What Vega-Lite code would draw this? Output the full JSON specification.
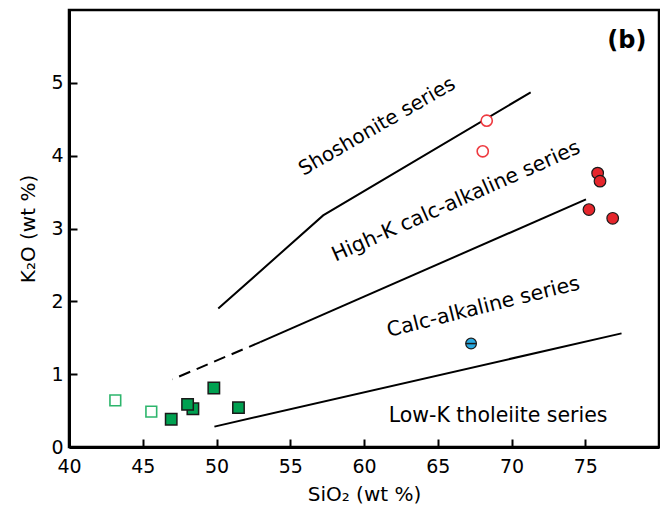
{
  "$schema": "https://vega.github.io/schema/vega-lite/v6.json",
  "width": 590,
  "height": 437,
  "autosize": {"type": "none"},
  "padding": {"left": 69, "top": 10, "right": 1, "bottom": 62},
  "background": "white",
  "config": {
    "view": {"stroke": "black", "strokeWidth": 2.5},
    "axis": {
      "grid": false,
      "domainColor": "black",
      "domainWidth": 3,
      "tickColor": "black",
      "tickWidth": 2,
      "tickSize": -8,
      "labelFont": "DejaVu Sans",
      "labelFontSize": 19,
      "labelColor": "black",
      "labelFlush": false,
      "labelOverlap": false,
      "titleFont": "DejaVu Sans",
      "titleFontSize": 20,
      "titleFontWeight": "normal",
      "titleColor": "black"
    }
  },
  "datasets": {
    "lines": [
      {"line": "shoshonite", "x": 50.12, "y": 1.9, "ord": 1},
      {"line": "shoshonite", "x": 57.23, "y": 3.18, "ord": 2},
      {"line": "shoshonite", "x": 71.3, "y": 4.87, "ord": 3},
      {"line": "highK", "x": 52.96, "y": 1.44, "ord": 1},
      {"line": "highK", "x": 75.05, "y": 3.4, "ord": 2},
      {"line": "calc", "x": 49.86, "y": 0.28, "ord": 1},
      {"line": "calc", "x": 77.46, "y": 1.56, "ord": 2}
    ],
    "dashed": [
      {"line": "highK-dashed", "x": 52.96, "y": 1.44, "ord": 1},
      {"line": "highK-dashed", "x": 47.02, "y": 0.93, "ord": 2}
    ],
    "samples": [
      {"group": "open-red", "x": 68.32, "y": 4.48},
      {"group": "open-red", "x": 68.05, "y": 4.06},
      {"group": "red", "x": 75.84, "y": 3.76},
      {"group": "red", "x": 76.0, "y": 3.65},
      {"group": "red", "x": 75.25, "y": 3.26},
      {"group": "red", "x": 76.86, "y": 3.14},
      {"group": "blue", "x": 67.26, "y": 1.42},
      {"group": "green", "x": 46.93, "y": 0.38},
      {"group": "green", "x": 48.4, "y": 0.525},
      {"group": "green", "x": 48.04, "y": 0.585},
      {"group": "green", "x": 49.82, "y": 0.81},
      {"group": "green", "x": 51.49, "y": 0.54},
      {"group": "open-green", "x": 43.14, "y": 0.64},
      {"group": "open-green", "x": 45.58, "y": 0.485}
    ],
    "labels": [
      {"name": "sho", "text": "Shoshonite series", "x": 60.89, "y": 4.4},
      {"name": "highK", "text": "High-K calc-alkaline series", "x": 66.24, "y": 3.37},
      {"name": "calc", "text": "Calc-alkaline series", "x": 68.09, "y": 1.92},
      {"name": "lowK", "text": "Low-K tholeiite series", "x": 69.09, "y": 0.42},
      {"name": "panel", "text": "(b)", "x": 77.82, "y": 5.57}
    ]
  },
  "encoding": {
    "x": {
      "field": "x",
      "type": "quantitative",
      "scale": {"domain": [40, 80], "nice": false, "zero": false},
      "axis": {
        "title": "SiO₂ (wt %)",
        "values": [40, 45, 50, 55, 60, 65, 70, 75],
        "labelPadding": 18,
        "titlePadding": 8
      }
    },
    "y": {
      "field": "y",
      "type": "quantitative",
      "scale": {"domain": [0, 6], "nice": false},
      "axis": {
        "title": "K₂O (wt %)",
        "values": [0, 1, 2, 3, 4, 5],
        "labelPadding": 14,
        "titlePadding": 12
      }
    }
  },
  "layer": [
    {
      "data": {"name": "lines"},
      "mark": {"type": "line", "color": "black", "strokeWidth": 2},
      "encoding": {"detail": {"field": "line"}, "order": {"field": "ord"}}
    },
    {
      "data": {"name": "dashed"},
      "mark": {"type": "line", "color": "black", "strokeWidth": 2, "strokeDash": [12, 7]},
      "encoding": {"detail": {"field": "line"}, "order": {"field": "ord"}}
    },
    {
      "data": {"name": "samples"},
      "transform": [{"filter": "datum.group === 'open-green'"}],
      "mark": {"type": "point", "shape": "square", "size": 115, "filled": false, "fill": "white", "stroke": "#2db56c", "strokeWidth": 1.6, "opacity": 1}
    },
    {
      "data": {"name": "samples"},
      "transform": [{"filter": "datum.group === 'green'"}],
      "mark": {"type": "point", "shape": "square", "size": 130, "filled": true, "fill": "#00a151", "stroke": "#1a1a1a", "strokeWidth": 1.5, "opacity": 1}
    },
    {
      "data": {"name": "samples"},
      "transform": [{"filter": "datum.group === 'open-red'"}],
      "mark": {"type": "point", "shape": "circle", "size": 125, "filled": false, "fill": "white", "stroke": "#ee3a40", "strokeWidth": 1.6, "opacity": 1}
    },
    {
      "data": {"name": "samples"},
      "transform": [{"filter": "datum.group === 'red'"}],
      "mark": {"type": "point", "shape": "circle", "size": 135, "filled": true, "fill": "#e5262c", "stroke": "#1a1a1a", "strokeWidth": 1.2, "opacity": 1}
    },
    {
      "data": {"name": "samples"},
      "transform": [{"filter": "datum.group === 'blue'"}],
      "mark": {"type": "point", "shape": "circle", "size": 115, "filled": true, "fill": "#29a9e0", "stroke": "#1a1a1a", "strokeWidth": 1.2, "opacity": 1}
    },
    {
      "data": {"name": "samples"},
      "transform": [{"filter": "datum.group === 'blue'"}],
      "mark": {"type": "point", "shape": "stroke", "size": 115, "filled": false, "stroke": "#1a1a1a", "strokeWidth": 1.5, "opacity": 1}
    },
    {
      "data": {"name": "labels"},
      "transform": [{"filter": "datum.name === 'sho'"}],
      "mark": {"type": "text", "font": "DejaVu Sans", "fontSize": 20, "angle": -30, "align": "center", "baseline": "middle", "color": "black"},
      "encoding": {"text": {"field": "text"}}
    },
    {
      "data": {"name": "labels"},
      "transform": [{"filter": "datum.name === 'highK'"}],
      "mark": {"type": "text", "font": "DejaVu Sans", "fontSize": 20.5, "angle": -24, "align": "center", "baseline": "middle", "color": "black"},
      "encoding": {"text": {"field": "text"}}
    },
    {
      "data": {"name": "labels"},
      "transform": [{"filter": "datum.name === 'calc'"}],
      "mark": {"type": "text", "font": "DejaVu Sans", "fontSize": 20.5, "angle": -14, "align": "center", "baseline": "middle", "color": "black"},
      "encoding": {"text": {"field": "text"}}
    },
    {
      "data": {"name": "labels"},
      "transform": [{"filter": "datum.name === 'lowK'"}],
      "mark": {"type": "text", "font": "DejaVu Sans", "fontSize": 20.5, "angle": 0, "align": "center", "baseline": "middle", "color": "black"},
      "encoding": {"text": {"field": "text"}}
    },
    {
      "data": {"name": "labels"},
      "transform": [{"filter": "datum.name === 'panel'"}],
      "mark": {"type": "text", "font": "DejaVu Sans", "fontSize": 24, "fontWeight": "bold", "angle": 0, "align": "center", "baseline": "middle", "color": "black"},
      "encoding": {"text": {"field": "text"}}
    }
  ]
}
